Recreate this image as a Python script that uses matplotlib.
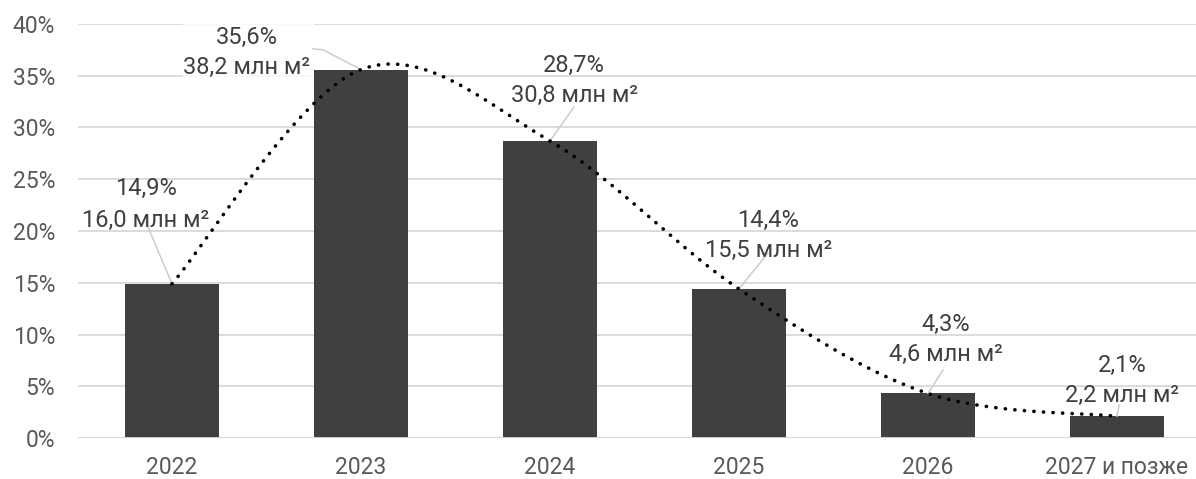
import numpy as np
import matplotlib
matplotlib.use("Agg")
import matplotlib.pyplot as plt
from matplotlib.patches import Rectangle

plt.rcParams['font.family'] = ['Roboto', 'Noto Sans', 'DejaVu Sans']

categories = ["2022", "2023", "2024", "2025", "2026", "2027 и позже"]
shares = [14.9, 35.6, 28.7, 14.4, 4.3, 2.1]          # %
volumes = [16.0, 38.2, 30.8, 15.5, 4.6, 2.2]         # млн м²
y_ticks = [0, 5, 10, 15, 20, 25, 30, 35, 40]

# label layout: x offset from bar centre, baselines of the two lines (in %)
label_dx = [-0.138, -0.606, 0.127, 0.156, 0.093, 0.026]
label_base1 = [23.48, 38.07, 35.36, 20.39, 10.34, 6.38]
label_base2 = [20.39, 35.17, 32.46, 17.49, 7.44, 3.48]
# leader line start points (x offset, y) relative to each bar
leader_start = [(-0.138, 20.87), (-0.254, 37.6), (0.127, 31.98),
                (0.153, 17.87), (0.079, 6.57), (0.011, 3.19)]

BAR = "#404040"
GRID = "#d9d9d9"
TICK = "#595959"
LEADER = "#cccccc"

fig = plt.figure(figsize=(11.96, 4.79), dpi=100)
W, H = 1196, 479
x0, x1 = 77.5, 1211.5
y0, y1 = 438, 24
ax = fig.add_axes([x0 / W, (H - y0) / H, (x1 - x0) / W, (y0 - y1) / H])

x = np.arange(len(categories))
ax.bar(x, shares, width=0.5, color=BAR, zorder=2)

ax.set_xlim(-0.5, len(categories) - 0.5)
ax.set_ylim(0, 40)
ax.set_yticks(y_ticks)
ax.set_yticklabels([f"{t}%" for t in y_ticks])
ax.set_xticks(x)
ax.set_xticklabels(categories)
ax.tick_params(axis='both', length=0, labelsize=16.5, colors=TICK)
ax.tick_params(axis='x', pad=13)
ax.tick_params(axis='y', pad=16)
for s in ax.spines.values():
    s.set_visible(False)
ax.yaxis.grid(True, color=GRID, lw=1.3, zorder=0)
ax.set_axisbelow(True)
ax.axhline(0, color=GRID, lw=1.3, zorder=3)


# smooth curve through the bar tops (Catmull-Rom style Bezier segments)
def smooth(xs, ys, n=60):
    xs = np.asarray(xs, float)
    ys = np.asarray(ys, float)
    px = np.concatenate([[xs[0]], xs, [xs[-1]]])
    py = np.concatenate([[ys[0]], ys, [ys[-1]]])
    out_x, out_y = [], []
    for i in range(1, len(px) - 2):
        p0 = np.array([px[i], py[i]])
        p3 = np.array([px[i + 1], py[i + 1]])
        c1 = p0 + (np.array([px[i + 1], py[i + 1]]) - np.array([px[i - 1], py[i - 1]])) / 6
        c2 = p3 - (np.array([px[i + 2], py[i + 2]]) - np.array([px[i], py[i]])) / 6
        t = np.linspace(0, 1, n)[:, None]
        b = (1 - t) ** 3 * p0 + 3 * (1 - t) ** 2 * t * c1 + 3 * (1 - t) * t ** 2 * c2 + t ** 3 * p3
        out_x.extend(b[:, 0])
        out_y.extend(b[:, 1])
    return np.array(out_x), np.array(out_y)


sx, sy = smooth(x, shares)
ax.plot(sx, sy, color="black", lw=2.6, linestyle=(0, (0.05, 2.6)),
        dash_capstyle='round', zorder=4)

# light backdrop behind the 2023 label
ax.add_patch(Rectangle((1 - 0.94, 34.4), 0.69, 5.8, facecolor='white',
                       edgecolor='none', alpha=0.85, zorder=1))

for i, (s, v) in enumerate(zip(shares, volumes)):
    sx0, sy0 = leader_start[i]
    if i == 1:
        ax.plot([i + sx0, i - 0.201, i], [sy0, 37.5, s], color=LEADER, lw=1.1, zorder=3)
    else:
        ax.plot([i + sx0, i], [sy0, s], color=LEADER, lw=1.1, zorder=3)
    line1 = f"{s:.1f}%".replace(".", ",")
    line2 = f"{v:.1f} млн м²".replace(".", ",")
    ax.text(i + label_dx[i], label_base1[i], line1, ha='center', va='baseline',
            fontsize=17, color=BAR, zorder=5)
    ax.text(i + label_dx[i], label_base2[i], line2, ha='center', va='baseline',
            fontsize=17, color=BAR, zorder=5)

fig.savefig("out.png", dpi=100)
